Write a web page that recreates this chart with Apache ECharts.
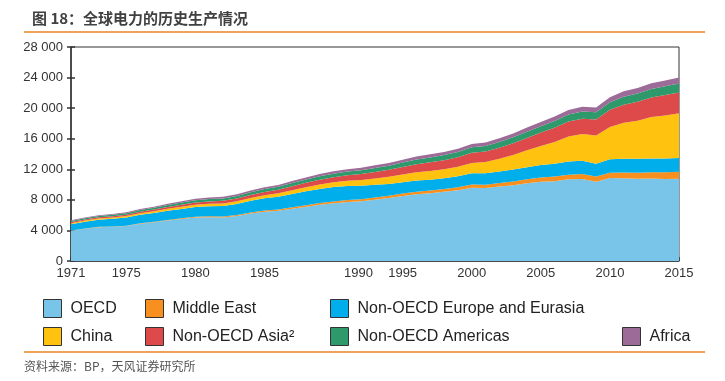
<!DOCTYPE html>
<html><head><meta charset="utf-8">
<script src="https://cdn.jsdelivr.net/npm/echarts@6/dist/echarts.min.js"></script>
<style>html,body{margin:0;padding:0;background:#fff}#c{width:725px;height:381px}</style>
</head><body><div id="c"></div>
<script>
const years = [];
for (let y = 1971; y <= 2015; y++) years.push(String(y));
const shownYears = ['1971','1975','1980','1985','1990','1995','2000','2005','2010','2015'];
const yTicks = [0,4000,8000,12000,16000,20000,24000,28000];

const oecd = [3950,4230,4430,4480,4580,4880,5060,5300,5500,5700,5740,5700,5880,6200,6450,6560,6840,7100,7350,7550,7730,7820,8030,8250,8500,8720,8860,9050,9250,9580,9550,9750,9920,10170,10380,10450,10680,10730,10380,10850,10830,10760,10780,10720,10760];
const middleEast = [30,33,37,42,48,56,64,72,80,90,105,120,135,150,165,180,195,210,225,240,235,260,280,300,320,340,360,380,400,420,440,465,495,525,560,590,620,650,680,700,740,790,830,880,930];
const nonOecdEurope = [830,880,930,990,1050,1100,1150,1200,1240,1280,1330,1380,1440,1520,1590,1660,1740,1810,1860,1900,1860,1760,1660,1530,1480,1460,1420,1410,1430,1470,1490,1500,1550,1580,1620,1680,1710,1740,1650,1760,1800,1820,1800,1800,1790];
const china = [138,150,167,169,196,203,223,257,282,300,309,328,351,377,411,450,497,545,585,621,678,754,840,928,1007,1081,1134,1167,1239,1356,1480,1654,1911,2200,2500,2866,3282,3496,3714,4208,4716,4988,5436,5650,5850];
const nonOecdAsia = [140,150,165,175,190,210,230,250,270,290,315,340,365,390,420,460,510,560,610,660,720,780,850,920,1000,1070,1140,1180,1240,1330,1380,1460,1540,1630,1740,1840,1950,2010,2090,2260,2370,2470,2550,2670,2720];
const nonOecdAmericas = [140,150,165,180,195,215,235,255,280,300,310,325,340,360,380,395,410,430,445,460,480,495,520,550,580,610,640,670,690,720,710,740,770,810,840,880,910,950,950,1000,1050,1090,1120,1150,1160];
const africa = [90,97,105,112,120,130,142,155,168,180,192,205,215,228,240,255,268,282,296,310,318,325,340,355,370,385,400,410,425,440,460,480,510,540,560,585,610,620,620,660,690,720,740,760,790];

const seriesNames = ['OECD','Middle East','Non-OECD Europe and Eurasia','China','Non-OECD Asia²','Non-OECD Americas','Africa'];
const seriesData = [oecd, middleEast, nonOecdEurope, china, nonOecdAsia, nonOecdAmericas, africa];
const colors = ['#79C5EA','#F7901E','#00AEEB','#FFC20E','#DE4A4A','#2E9A6C','#9C6B98'];

const legendPos = [[38,294],[140,294],[325,294],[38,322],[140,322],[325,322],[617,322]];

const chart = echarts.init(document.getElementById('c'), null, {renderer:'canvas'});
const axisFont = "'Liberation Sans Narrow','Arial Narrow','Liberation Sans',Arial,sans-serif";
chart.setOption({
  animation:false,
  backgroundColor:'#fff',
  color: colors,
  title:{ text:'图 18：全球电力的历史生产情况', left:27, top:6,
    textStyle:{fontFamily:"'Noto Sans CJK SC',sans-serif", fontSize:15, fontWeight:'bold', color:'#404040'} },
  graphic:[
    {type:'line', shape:{x1:24,y1:32,x2:705,y2:32}, style:{stroke:'#EFA259', lineWidth:2}},
    {type:'line', shape:{x1:24,y1:352,x2:705,y2:352}, style:{stroke:'#EFA259', lineWidth:2}},
    {type:'text', left:24, top:360, style:{text:'资料来源：BP，天风证券研究所', font:"12px 'Noto Sans CJK SC',sans-serif", fill:'#555'}}
  ],
  legend: seriesNames.map((n,i)=>({
    data:[n], left:legendPos[i][0], top:legendPos[i][1], itemWidth:18, itemHeight:18, itemGap:8,
    icon:'rect', itemStyle:{borderColor:'#333', borderWidth:1},
    textStyle:{fontFamily:"'Liberation Sans',Arial,sans-serif", fontSize:16, color:'#222', padding:[0,0,0,4]},
    selectedMode:false
  })),
  grid:{left:71, right:46, top:47, bottom:120, show:true, borderColor:'#333', borderWidth:1, backgroundColor:'transparent'},
  xAxis:{
    type:'category', data:years, boundaryGap:false,
    axisLine:{lineStyle:{color:'#333', width:1.5}},
    axisTick:{interval:0, inside:true, length:4, lineStyle:{color:'#333', width:1.5}},
    axisLabel:{
      interval:(i,v)=>shownYears.indexOf(v)>=0,
      margin:6, color:'#333', fontFamily:axisFont, fontSize:13,
      formatter:(v)=> v==='1990' ? '{s|1990}' : v,
      rich:{s:{padding:[0,0,0,50], fontFamily:axisFont, fontSize:13, color:'#333'}}
    },
    splitLine:{show:false}
  },
  yAxis:[{
    type:'value', min:yTicks[0], max:yTicks[yTicks.length-1], interval:4000,
    axisLine:{show:true, lineStyle:{color:'#333', width:1.5}},
    axisTick:{show:true, length:4, lineStyle:{color:'#333', width:1.5}},
    axisLabel:{color:'#333', fontFamily:axisFont, fontSize:13, margin:8,
      formatter:(v)=> v===0 ? '0' : (v/1000)+' 000'},
    splitLine:{show:false}
  },{
    type:'value', position:'left', min:yTicks[0], max:yTicks[yTicks.length-1], interval:4000,
    axisLine:{show:false}, axisTick:{show:true, inside:true, length:4, lineStyle:{color:'#333', width:1.5}},
    axisLabel:{show:false}, splitLine:{show:false}
  }],
  series: seriesNames.map((n,i)=>({
    name:n, type:'line', stack:'total', data:seriesData[i], symbol:'none', showSymbol:false,
    lineStyle:{width:0}, areaStyle:{color:colors[i], opacity:1}, itemStyle:{color:colors[i]},
    emphasis:{disabled:true}
  }))
});
</script></body></html>
